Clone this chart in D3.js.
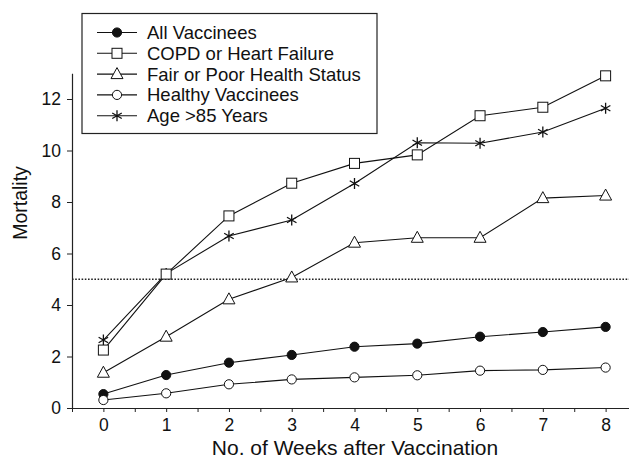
<!DOCTYPE html>
<html>
<head>
<meta charset="utf-8">
<script src="https://cdn.jsdelivr.net/npm/d3@7"></script>
<style>
  body { margin: 0; background: #fff; }
  text { font-family: "Liberation Sans", Arial, sans-serif; fill: #111; }
</style>
</head>
<body>
<div id="chart"></div>
<script>
// data
var weeks = [0, 1, 2, 3, 4, 5, 6, 7, 8];
var allVaccinees = [0.54, 1.28, 1.76, 2.06, 2.38, 2.50, 2.77, 2.95, 3.15];
var copdHeart = [2.25, 5.20, 7.46, 8.73, 9.50, 9.83, 11.35, 11.68, 12.90];
var fairPoor = [1.37, 2.77, 4.22, 5.07, 6.42, 6.61, 6.61, 8.15, 8.25];
var healthy = [0.31, 0.57, 0.92, 1.11, 1.19, 1.27, 1.45, 1.48, 1.57];
var age85 = [2.64, 5.22, 6.68, 7.30, 8.72, 10.30, 10.28, 10.72, 11.64];
var seriesNames = ["All Vaccinees", "COPD or Heart Failure", "Fair or Poor Health Status", "Healthy Vaccinees", "Age >85 Years"];
var seriesMarkers = ["dot", "square", "triangle", "circle", "star"];
var yTicks = [0, 2, 4, 6, 8, 10, 12];
var refLine = 5;

var W = 629, H = 458;
var svg = d3.select("#chart").append("svg")
    .attr("width", W)
    .attr("height", H);

var x = d3.scaleLinear().domain([-0.5, 8.5]).range([72, 637]);
var y = d3.scaleLinear().domain([0, 13]).range([408, 73.25]);

var series = [allVaccinees, copdHeart, fairPoor, healthy, age85];

// dotted reference line
svg.append("line")
    .attr("x1", x(-0.5)).attr("x2", W)
    .attr("y1", y(refLine)).attr("y2", y(refLine))
    .attr("stroke", "#222")
    .attr("stroke-width", 1.6)
    .attr("stroke-dasharray", "1.6,1.6");

// x axis: ticks at every half week, labels on whole weeks
var xTicks = d3.range(-0.5, 8.51, 0.5);
var xAxis = svg.append("g")
    .attr("transform", "translate(0," + y(0) + ")")
    .call(d3.axisBottom(x).tickValues(xTicks).tickSize(4).tickSizeOuter(0)
      .tickFormat(function(d) { return Number.isInteger(d) && d >= 0 ? d : ""; }));
xAxis.select(".domain").attr("d", "M70,0.5H" + W).attr("stroke", "#222").attr("stroke-width", 1.2);
xAxis.selectAll(".tick line").attr("stroke", "#222");
xAxis.selectAll(".tick text")
    .attr("y", 11)
    .style("font-size", "17.5px")
    .style("font-family", "Liberation Sans, Arial, sans-serif");

// y axis
var yAxis = svg.append("g")
    .attr("transform", "translate(" + x(-0.5) + ",0)")
    .call(d3.axisLeft(y).tickValues(yTicks).tickSize(5).tickSizeOuter(0));
yAxis.select(".domain").attr("stroke", "#222").attr("stroke-width", 1.2);
yAxis.selectAll(".tick line").attr("stroke", "#222");
yAxis.selectAll(".tick text")
    .attr("x", -11)
    .style("font-size", "17.5px")
    .style("font-family", "Liberation Sans, Arial, sans-serif");

// axis titles
svg.append("text")
    .attr("x", 355).attr("y", 455)
    .attr("text-anchor", "middle")
    .style("font-size", "21px")
    .text("No. of Weeks after Vaccination");

svg.append("text")
    .attr("transform", "translate(27,203) rotate(-90)")
    .attr("text-anchor", "middle")
    .style("font-size", "19.5px")
    .text("Mortality");

// marker drawing
function drawMarker(g, type, cx, cy) {
  if (type === "dot" || type === "circle") {
    g.append("circle")
      .attr("cx", cx).attr("cy", cy).attr("r", 4.6)
      .attr("fill", type === "dot" ? "#111" : "#fff")
      .attr("stroke", "#111").attr("stroke-width", 1);
  } else if (type === "square") {
    g.append("rect")
      .attr("x", cx - 5).attr("y", cy - 5)
      .attr("width", 10).attr("height", 10)
      .attr("fill", "#fff").attr("stroke", "#111").attr("stroke-width", 1);
  } else if (type === "triangle") {
    g.append("path")
      .attr("d", "M" + cx + "," + (cy - 6.5) + "L" + (cx + 6) + "," + (cy + 4.5) + "L" + (cx - 6) + "," + (cy + 4.5) + "Z")
      .attr("fill", "#fff").attr("stroke", "#111").attr("stroke-width", 1);
  } else if (type === "star") {
    var r = 5.5, p = "";
    [90, 30, 150].forEach(function(a) {
      var dx = r * Math.cos(a * Math.PI / 180), dy = r * Math.sin(a * Math.PI / 180);
      p += "M" + (cx - dx) + "," + (cy - dy) + "L" + (cx + dx) + "," + (cy + dy);
    });
    g.append("path").attr("d", p).attr("stroke", "#111").attr("stroke-width", 1.3).attr("fill", "none");
  }
}

var line = d3.line()
    .x(function(d, i) { return x(weeks[i]); })
    .y(function(d) { return y(d); });

// draw order so that open markers sit on top of lines
var order = [4, 1, 2, 0, 3];
order.forEach(function(s) {
  svg.append("path")
    .datum(series[s])
    .attr("d", line)
    .attr("fill", "none")
    .attr("stroke", "#111")
    .attr("stroke-width", 1.1);
});
order.forEach(function(s) {
  var g = svg.append("g");
  series[s].forEach(function(v, i) {
    drawMarker(g, seriesMarkers[s], x(weeks[i]), y(v));
  });
});

// legend
var legend = svg.append("g");
legend.append("rect")
    .attr("x", 82).attr("y", 13.5)
    .attr("width", 295).attr("height", 120)
    .attr("fill", "#fff")
    .attr("stroke", "#222").attr("stroke-width", 1.2);

seriesNames.forEach(function(name, i) {
  var ly = 32.5 + i * 20.8;
  legend.append("line")
    .attr("x1", 97).attr("x2", 137)
    .attr("y1", ly).attr("y2", ly)
    .attr("stroke", "#111").attr("stroke-width", 1.1);
  drawMarker(legend, seriesMarkers[i], 117, ly);
  legend.append("text")
    .attr("x", 147).attr("y", ly)
    .attr("dy", "0.35em")
    .style("font-size", "18.5px")
    .text(name);
});
</script>
</body>
</html>
